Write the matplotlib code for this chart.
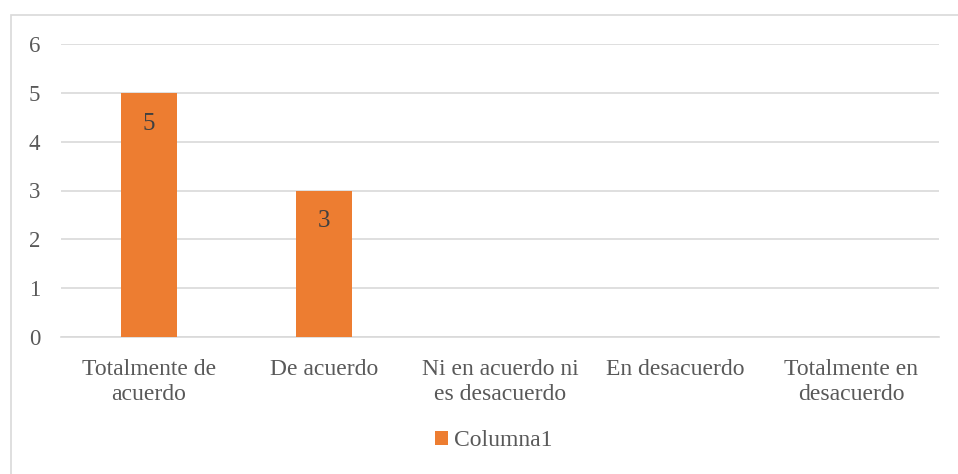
import matplotlib
matplotlib.use('Agg')
import matplotlib.pyplot as plt
from matplotlib.patches import Rectangle

plt.rcParams['font.family'] = ['Liberation Serif', 'DejaVu Serif']

categorias = ['Totalmente de\nacuerdo', 'De acuerdo', 'Ni en acuerdo ni\nes desacuerdo',
              'En desacuerdo', 'Totalmente en\ndesacuerdo']
valores = [5, 3, 0, 0, 0]
serie = 'Columna1'

naranja = '#ED7D31'
gris_texto = '#595959'
gris_linea = '#D9D9D9'

fig = plt.figure(figsize=(9.58, 4.74), dpi=100)
# marco del grafico
fig.patches.append(Rectangle((11 / 958, -0.1), 1.2, 1 - 15 / 474 + 0.1, transform=fig.transFigure,
                             fill=False, edgecolor=gris_linea, linewidth=1.2))

ax = fig.add_axes([61 / 958, 1 - 337 / 474, 878 / 958, 293 / 474])
x = range(len(categorias))
barras = ax.bar(x, valores, width=0.32, color=naranja, label=serie, zorder=3)

for rect, v in zip(barras, valores):
    if v > 0:
        ax.text(rect.get_x() + rect.get_width() / 2, v - 0.63, str(v), ha='center', va='center',
                fontsize=18, color='#404040', zorder=4)

ax.set_xlim(-0.5, len(categorias) - 0.5)
ax.set_ylim(0, 6)
ax.set_yticks(range(0, 7))
ax.set_xticks(list(x))
ax.set_xticklabels(categorias, linespacing=1.22)
ax.tick_params(axis='both', length=0, labelsize=17, labelcolor=gris_texto)
ax.tick_params(axis='y', labelsize=16.5, pad=15)
ax.tick_params(axis='x', pad=16)
ax.grid(axis='y', color=gris_linea, linewidth=1.2, zorder=0)
for s in ['top', 'right', 'left']:
    ax.spines[s].set_visible(False)
ax.spines['bottom'].set_color(gris_linea)
ax.spines['bottom'].set_linewidth(1.2)

fig.legend(handles=[barras], labels=[serie], loc='center', bbox_to_anchor=(494 / 958, 1 - 441 / 474),
           frameon=False, fontsize=17, labelcolor=gris_texto, handlelength=0.55, handleheight=0.55,
           handletextpad=0.25, borderpad=0)

fig.savefig('out.png', dpi=100)
